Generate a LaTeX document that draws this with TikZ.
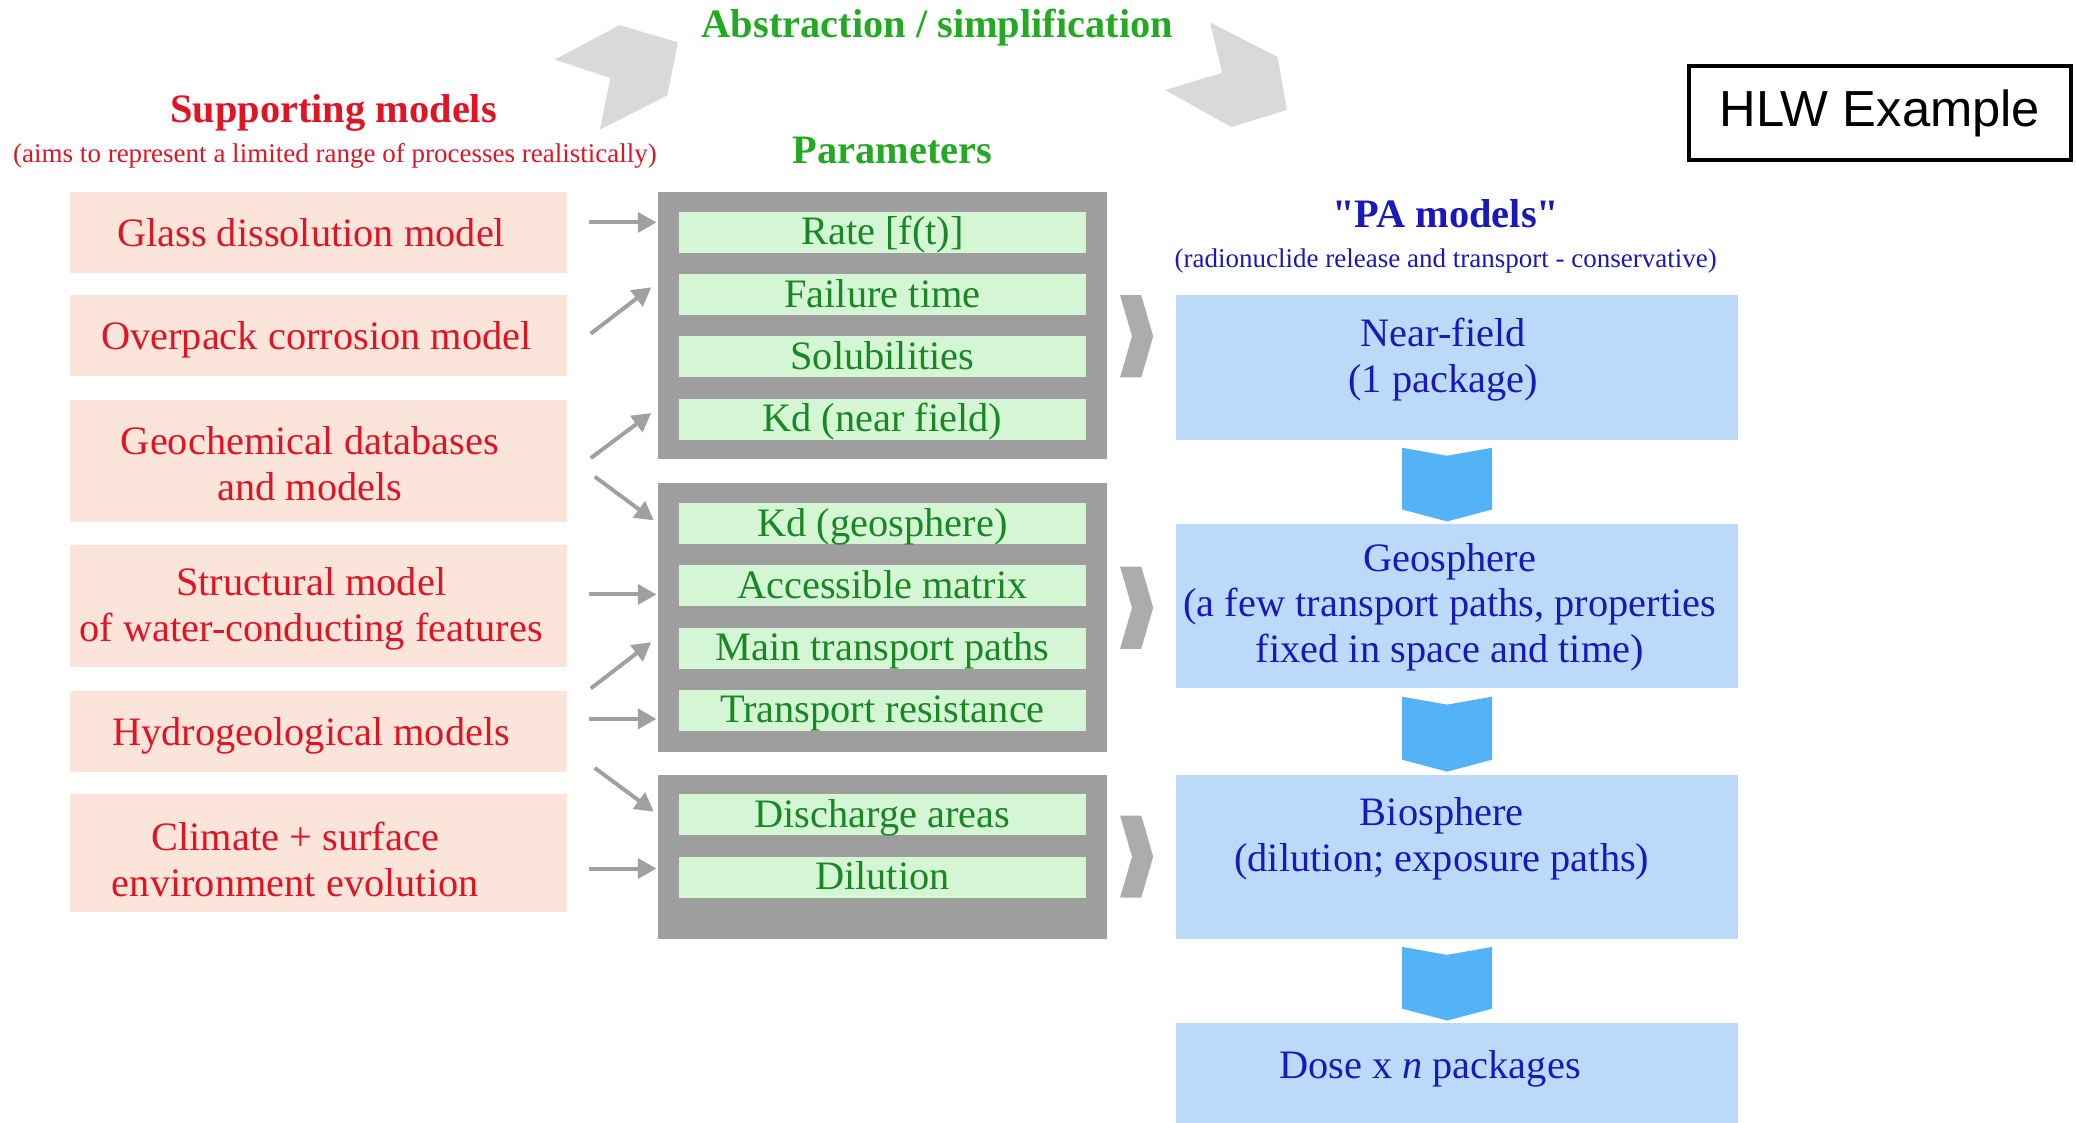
\documentclass[tikz,border=0pt]{standalone}
\usepackage{fontspec}
\setmainfont{Liberation Serif}
\newfontfamily\arialfont{Liberation Sans}
\usetikzlibrary{arrows.meta,calc}

\definecolor{redtxt}{RGB}{225,20,35}
\definecolor{redfill}{RGB}{251,228,218}
\definecolor{grnfill}{RGB}{212,246,212}
\definecolor{grntxt}{RGB}{25,135,35}
\definecolor{grnhead}{RGB}{35,170,35}
\definecolor{grayfill}{RGB}{158,158,158}
\definecolor{chevgray}{RGB}{172,172,172}
\definecolor{topgray}{RGB}{217,217,217}
\definecolor{bluefill}{RGB}{187,218,250}
\definecolor{bluetxt}{RGB}{25,25,185}
\definecolor{arrowblue}{RGB}{84,178,246}
\definecolor{arrowgray}{RGB}{160,160,160}

\tikzset{
  boxfont/.style={font=\fontsize{30.5}{34.5}\selectfont, align=center, inner sep=0pt},
  headfont/.style={font=\fontsize{30.5}{34.5}\selectfont\bfseries, inner sep=0pt},
  subfont/.style={font=\fontsize{20.4}{24}\selectfont, inner sep=0pt},
  redbox/.style={fill=redfill, inner sep=0pt, minimum width=375},
  redtext/.style={boxfont, text=redtxt},
  graybox/.style={fill=grayfill, inner sep=0pt, minimum width=339},
  greenbar/.style={fill=grnfill, inner sep=0pt, minimum width=307, minimum height=31,
     font=\fontsize{30.5}{34.5}\selectfont, text=grntxt, text height=22pt, text depth=3pt},
  bluebox/.style={fill=bluefill, inner sep=0pt, minimum width=425},
  bluetext/.style={boxfont, text=bluetxt},
  garrow/.style={draw=arrowgray, line width=3pt, -{Triangle[length=14pt,width=15pt]}},
}

\begin{document}
\begin{tikzpicture}[x=1pt,y=-1pt]
\fill[white] (0,0) rectangle (1568,848);
\path[use as bounding box] (0,0) rectangle (1568,848);

% top chevrons
\fill[topgray] (419,45) -- (468,19) -- (512,32) -- (504,72) -- (453,98) -- (461,59) -- cycle;
\fill[topgray] (914,17) -- (965,43) -- (972,83) -- (930,96) -- (880,68) -- (923,55) -- cycle;

% headings
\node[headfont, text=grnhead] (abs) at (708,21) {Abstraction / simplification};
\node[headfont, text=redtxt] (sup) at (252,85) {Supporting models};
\node[subfont, text=redtxt] (supsub) at (253,118) {(aims to represent a limited range of processes realistically)};
\node[headfont, text=grnhead] (par) at (674,113.5) {Parameters};
\node[headfont, text=bluetxt] (pa) at (1092,161.5) {\textquotedbl PA models\textquotedbl};
\node[subfont, text=bluetxt] (pasub) at (1092,197) {(radionuclide release and transport - conservative)};

% HLW box
\node[draw=black, line width=3pt, minimum width=288, minimum height=71, inner sep=0pt,
      font=\arialfont\fontsize{38.3}{44}\selectfont] (hlw) at (1420,85.5) {HLW Example};

% supporting model boxes
\node[redbox, minimum height=61] (glass)    at (240.5,175.5) {};
\node[redbox, minimum height=61] (overpack) at (240.5,253.5) {};
\node[redbox, minimum height=92] (geochem)  at (240.5,348) {};
\node[redbox, minimum height=92] (struct)   at (240.5,458) {};
\node[redbox, minimum height=61] (hydro)    at (240.5,552.5) {};
\node[redbox, minimum height=89] (climate)  at (240.5,644.5) {};

\node[redtext] (tglass)    at (235,176) {Glass dissolution model};
\node[redtext] (toverpack) at (239,257) {Overpack corrosion model};
\node[redtext] (tgeochem)  at (234,350) {Geochemical databases\\and models};
\node[redtext] (tstruct)   at (235,460) {Structural model\\of water-conducting features};
\node[redtext] (thydro)    at (235,556) {Hydrogeological models};
\node[redtext] (tclimate)  at (223,649) {Climate + surface\\environment evolution};

% parameter groups
\node[graybox, minimum height=202] (g1) at (666.5,246) {};
\node[graybox, minimum height=203] (g2) at (666.5,466.5) {};
\node[graybox, minimum height=124] (g3) at (666.5,647) {};

\node[greenbar] (rate)      at (666.5,175.5) {Rate [f(t)]};
\node[greenbar] (failure)   at (666.5,222.5) {Failure time};
\node[greenbar] (solub)     at (666.5,269.5) {Solubilities};
\node[greenbar] (kdnf)      at (666.5,316.5) {Kd (near field)};
\node[greenbar] (kdgeo)     at (666.5,395.5) {Kd (geosphere)};
\node[greenbar] (access)    at (666.5,442.5) {Accessible matrix};
\node[greenbar] (main)      at (666.5,489.5) {Main transport paths};
\node[greenbar] (transres)  at (666.5,536.5) {Transport resistance};
\node[greenbar] (discharge) at (666.5,615.5) {Discharge areas};
\node[greenbar] (dilution)  at (666.5,662.5) {Dilution};

% arrows supporting models -> parameters
\draw[garrow] ($(glass.east)+(17,-7.5)$)    -- ($(rate.west)+(-17,-7.5)$);
\draw[garrow] ($(overpack.east)+(18,-1.5)$) -- ($(failure.west)+(-21,-5.5)$);
\draw[garrow] ($(geochem.east)+(18,-2)$)    -- ($(kdnf.west)+(-21,-4.5)$);
\draw[garrow] ($(geochem.east)+(21,12)$)    -- ($(kdgeo.west)+(-19,-2.5)$);
\draw[garrow] ($(struct.east)+(17,-9)$)     -- ($(access.west)+(-17,6.5)$);
\draw[garrow] ($(hydro.east)+(18,-32.5)$)   -- ($(main.west)+(-21,-4.5)$);
\draw[garrow] ($(hydro.east)+(17,-9.5)$)    -- ($(transres.west)+(-17,6.5)$);
\draw[garrow] ($(hydro.east)+(21,27.5)$)    -- ($(discharge.west)+(-19,-2.5)$);
\draw[garrow] ($(climate.east)+(17,11.5)$)  -- ($(dilution.west)+(-17,-6.5)$);

% small chevrons
\foreach \yy in {223,428,616} {
  \fill[chevgray] (846,\yy) -- (862,\yy) -- (871,\yy+31) -- (862,\yy+62) -- (846,\yy+62) -- (855,\yy+31) -- cycle;
}

% PA model boxes
\node[bluebox, minimum height=109] (near) at (1100.5,277.5) {};
\node[bluebox, minimum height=124] (geo)  at (1100.5,458) {};
\node[bluebox, minimum height=124] (bio)  at (1100.5,647) {};
\node[bluebox, minimum height=75]  (dose) at (1100.5,810.5) {};

\node[bluetext] (tnear) at (1090,271.5) {Near-field\\(1 package)};
\node[bluetext] (tgeo)  at (1095,458.5) {Geosphere\\(a few transport paths, properties\\fixed in space and time)};
\node[bluetext] (tbio)  at (1089,633.5) {Biosphere\\(dilution; exposure paths)};
\node[bluetext] (tdose) at (1080,807.5) {Dose x \textit{n} packages};

% down arrows
\foreach \a/\b in {near/geo, geo/bio, bio/dose} {
  \fill[arrowblue] ($(\a.south)+(-41.5,6)$) -- ($(\a.south)+(-7.5,12)$) -- ($(\a.south)+(26.5,6)$)
     -- ($(\b.north)+(26.5,-11)$) -- ($(\b.north)+(-7.5,-2)$) -- ($(\b.north)+(-41.5,-11)$) -- cycle;
}
\end{tikzpicture}
\end{document}
